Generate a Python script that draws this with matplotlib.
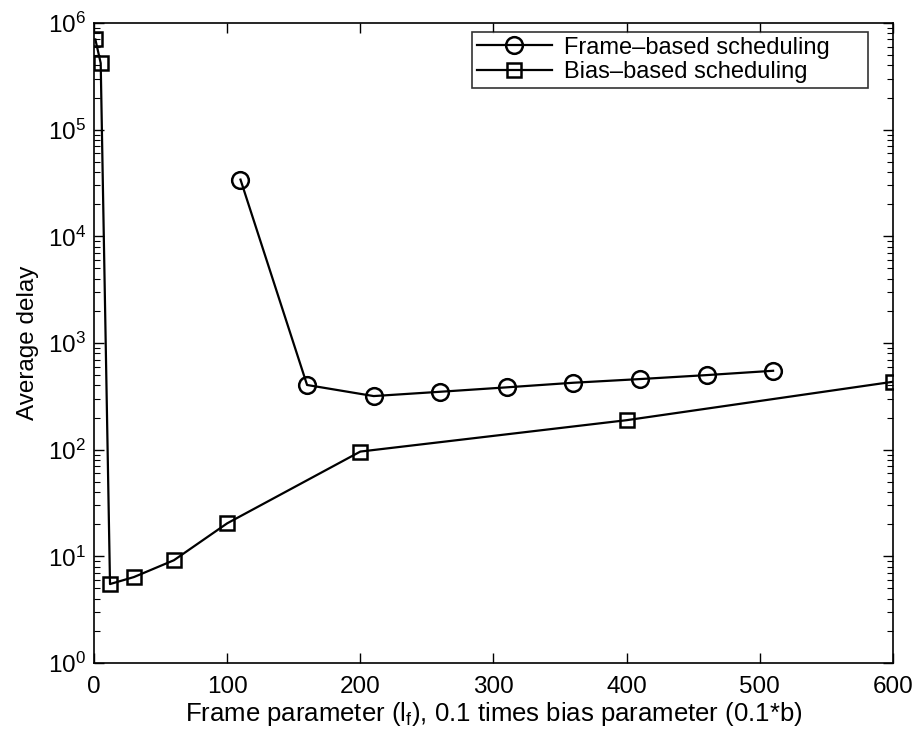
import matplotlib
matplotlib.use("Agg")
import matplotlib.pyplot as plt
from matplotlib.ticker import FixedLocator, NullFormatter, LogFormatterSciNotation

plt.rcParams['font.family'] = ['Liberation Sans', 'DejaVu Sans']
plt.rcParams['mathtext.fontset'] = 'custom'
plt.rcParams['mathtext.rm'] = 'Liberation Sans'
plt.rcParams['mathtext.it'] = 'Liberation Sans:italic'

frame_x = [110, 160, 210, 260, 310, 360, 410, 460, 510]
frame_y = [3.4e4, 404, 318, 349, 384, 424, 459, 500, 549]

bias_x = [1, 5, 12, 30, 60, 100, 200, 400, 600]
bias_y = [7.0e5, 4.2e5, 5.5, 6.4, 9.2, 20.4, 96, 189, 433]

xticks = [0, 100, 200, 300, 400, 500, 600]
yticks = [1e0, 1e1, 1e2, 1e3, 1e4, 1e5, 1e6]

fig = plt.figure(figsize=(9.13, 7.40), dpi=100)
ax = fig.add_axes([0.103, 0.104, 0.875, 0.865])

ax.plot(frame_x, frame_y, color='black', lw=1.6, marker='o', ms=12,
        mfc='none', mec='black', mew=1.8, label='Frame\u2013based scheduling')
ax.plot(bias_x, bias_y, color='black', lw=1.6, marker='s', ms=9.5,
        mfc='none', mec='black', mew=1.8, label='Bias\u2013based scheduling')

ax.set_yscale('log')
ax.set_xlim(0, 600)
ax.set_ylim(1, 1e6)
ax.set_xticks(xticks)
ax.yaxis.set_major_locator(FixedLocator(yticks))
ax.yaxis.set_major_formatter(LogFormatterSciNotation())
minors = [m * d for d in yticks[:-1] for m in range(2, 10)]
ax.yaxis.set_minor_locator(FixedLocator(minors))
ax.yaxis.set_minor_formatter(NullFormatter())

ax.tick_params(which='both', direction='in', top=True, right=True, labelsize=17.5)
ax.tick_params(which='major', length=7, width=1)
ax.tick_params(axis='x', which='major', pad=9)
ax.tick_params(axis='y', which='major', pad=6)
ax.tick_params(which='minor', length=4, width=0.8)
for s in ax.spines.values():
    s.set_linewidth(1.2)

ax.set_xlabel('Frame parameter (l$_\\mathregular{f}$), 0.1 times bias parameter (0.1*b)',
              fontsize=18.5, labelpad=2)
ax.set_ylabel('Average delay', fontsize=17.5, labelpad=6)

leg = ax.legend(loc='upper left', bbox_to_anchor=(0.473, 0.911, 0.496, 0.075),
                mode='expand', borderaxespad=0, fontsize=17, frameon=True,
                fancybox=False, edgecolor='black', handlelength=3.2,
                borderpad=0.2, labelspacing=0.1, handletextpad=0.5)
leg.get_frame().set_linewidth(1.2)

fig.savefig('out.png', dpi=100)
